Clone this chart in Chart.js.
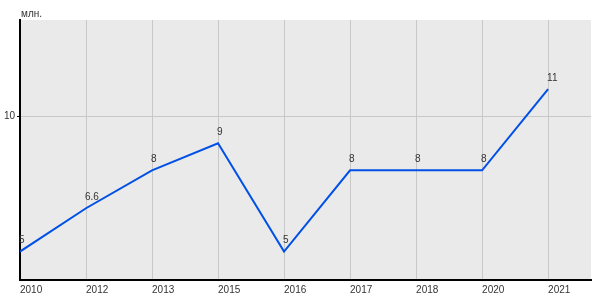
<!DOCTYPE html>
<html>
<head>
<meta charset="utf-8">
<script src="https://cdn.jsdelivr.net/npm/chart.js@4"></script>
<style>
  html, body { margin: 0; padding: 0; background: #fff; }
  #wrap { width: 600px; height: 300px; }
</style>
</head>
<body>
<div id="wrap"><canvas id="chart"></canvas></div>
<script>
const years = ['2010', '2012', '2013', '2015', '2016', '2017', '2018', '2020', '2021'];
const values = [5, 6.6, 8, 9, 5, 8, 8, 8, 11];
const yTicks = [10];
const unitLabel = 'млн.';

const font = '"Liberation Sans", Arial, sans-serif';

// grey plot background + unit label
const background = {
  id: 'background',
  beforeDraw(chart) {
    const { ctx, chartArea: a } = chart;
    ctx.save();
    ctx.fillStyle = '#eaeaea';
    ctx.fillRect(a.left, a.top, a.right - a.left, a.bottom - a.top);
    ctx.fillStyle = '#333';
    ctx.font = '10px ' + font;
    ctx.textBaseline = 'alphabetic';
    ctx.fillText(unitLabel, 21, 17);
    ctx.restore();
  }
};

// value labels above each point
const valueLabels = {
  id: 'valueLabels',
  afterDatasetsDraw(chart) {
    const { ctx } = chart;
    const meta = chart.getDatasetMeta(0);
    ctx.save();
    ctx.fillStyle = '#333';
    ctx.font = '10px ' + font;
    ctx.textAlign = 'left';
    ctx.textBaseline = 'bottom';
    meta.data.forEach((pt, i) => {
      ctx.fillText(String(values[i]), pt.x - 1, pt.y - 6);
    });
    ctx.restore();
  }
};

new Chart(document.getElementById('chart'), {
  type: 'line',
  data: {
    datasets: [{
      data: values.map((v, i) => ({ x: i, y: v })),
      borderColor: '#0050e6',
      borderWidth: 2,
      pointRadius: 0,
      tension: 0,
      fill: false
    }]
  },
  options: {
    responsive: true,
    maintainAspectRatio: false,
    animation: false,
    layout: { padding: { top: 20, right: 9, left: 0, bottom: 0 } },
    plugins: { legend: { display: false }, tooltip: { enabled: false } },
    scales: {
      x: {
        type: 'linear',
        min: 0,
        max: 8.65,
        afterBuildTicks: s => { s.ticks = years.map((y, i) => ({ value: i })); },
        afterFit: s => { s.height = 20; },
        grid: { color: '#c8c8c8', drawTicks: false },
        border: { color: '#000', width: 2 },
        ticks: {
          align: 'start',
          padding: 4,
          color: '#333',
          font: { family: font, size: 10 },
          callback: v => years[v] ?? ''
        }
      },
      y: {
        min: 3.95,
        max: 13.55,
        afterBuildTicks: s => { s.ticks = yTicks.map(v => ({ value: v })); },
        afterFit: s => { s.width = 20; },
        grid: { color: '#c8c8c8', tickLength: 3, tickColor: '#000' },
        border: { color: '#000', width: 2 },
        ticks: {
          padding: 2,
          color: '#333',
          font: { family: font, size: 10 }
        }
      }
    }
  },
  plugins: [background, valueLabels]
});
</script>
</body>
</html>
